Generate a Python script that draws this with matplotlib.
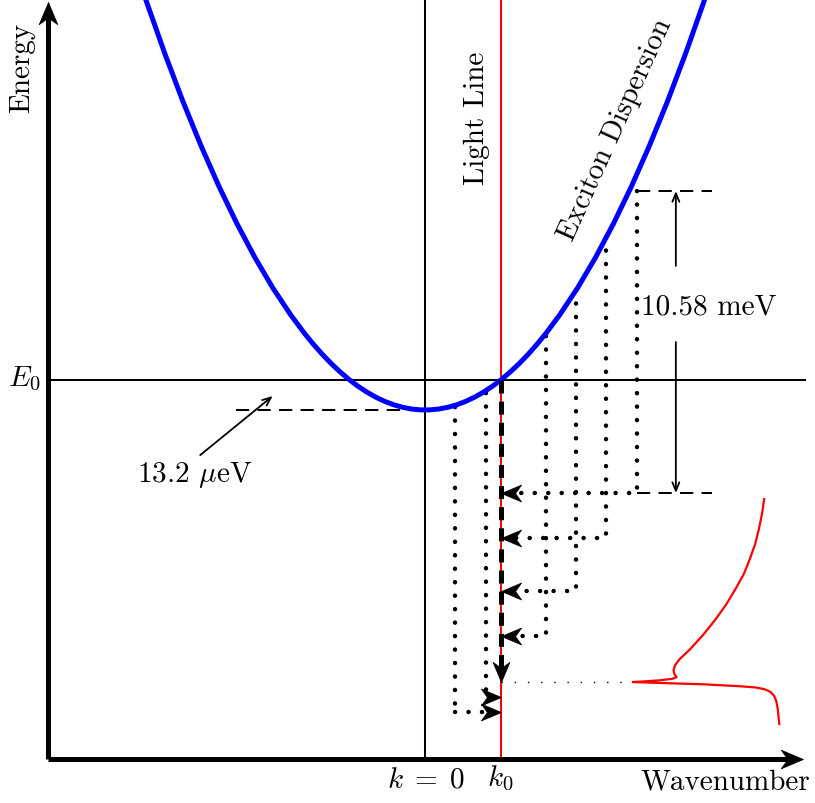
import numpy as np
import matplotlib
matplotlib.use("Agg")
import matplotlib.pyplot as plt
from matplotlib.path import Path
from matplotlib.patches import PathPatch
from matplotlib.markers import MarkerStyle
from matplotlib.transforms import Affine2D

plt.rcParams['font.family'] = ['cmr10', 'DejaVu Serif']
plt.rcParams['mathtext.fontset'] = 'cm'
plt.rcParams['axes.formatter.use_mathtext'] = True
plt.rcParams['lines.scale_dashes'] = False

# ---------------------------------------------------------
# Data (k in units of k0, energy in meV relative to E0)
# ---------------------------------------------------------
k0 = 1.0
E_min = -1.05

# exciton dispersion: parabola as quadratic bezier (start, control, end)
disp_k = [-3.8, 0.0, 3.8]
disp_E = [14.11, -16.21, 14.11]

# scattering paths: start on the dispersion, drop to a level, go to light line
col_k = [0.4, 0.8, 1.6, 2.0, 2.4, 2.8]
col_top = [-0.95, -0.45, 1.55, 3.15, 5.0, 6.62]
col_level = [-11.63, -11.11, -8.97, -7.39, -5.54, -3.96]

# emission level on the light line
E_emit = -10.58

# scale bar for 10.58 meV
bar_top = 6.62
bar_bottom = -3.96

# emission spectrum (drawn sideways)
spec_k = [4.49, 4.46, 4.42, 4.37, 4.30, 4.22, 4.11, 3.99, 3.85, 3.69, 3.51,
          3.37, 3.31, 3.29, 3.30, 3.33, 3.27, 3.11, 2.91, 2.75, 2.91, 3.18,
          3.68, 4.17, 4.37, 4.49, 4.57, 4.62, 4.65, 4.67, 4.68, 4.69]
spec_E = [-4.17, -4.70, -5.22, -5.75, -6.27, -6.80, -7.32, -7.85, -8.37,
          -8.90, -9.43, -9.78, -9.99, -10.16, -10.30, -10.41, -10.47, -10.52,
          -10.557, -10.582, -10.596, -10.62, -10.66, -10.73, -10.77, -10.83,
          -10.92, -11.06, -11.25, -11.53, -11.81, -12.05]

# ---------------------------------------------------------
# Figure
# ---------------------------------------------------------
fig = plt.figure(figsize=(8.15, 8.04), dpi=100)
ax = fig.add_axes([0, 0, 1, 1])
ax.set_xlim(-5.632, 5.163)
ax.set_ylim(-14.82, 13.35)
ax.axis('off')

x_lo = -5.0
E_axis = -13.28
fs = 21

# stealth-like arrow head, tip at the origin, pointing right
stealth = Path([(0, 0), (-1, 0.42), (-0.7, 0), (-1, -0.42), (0, 0)],
               [Path.MOVETO, Path.LINETO, Path.LINETO, Path.LINETO, Path.CLOSEPOLY])


def head(x, y, angle, ms=29):
    ax.plot([x], [y], linestyle='none', color='black', ms=ms, mew=0.5,
            marker=MarkerStyle(stealth, transform=Affine2D().rotate_deg(angle)),
            zorder=6)


# axes with arrows
ax.plot([x_lo, x_lo], [E_axis, 12.8], color='black', lw=3.6, solid_capstyle='butt', zorder=5)
ax.plot([x_lo, 4.85], [E_axis, E_axis], color='black', lw=3.6, solid_capstyle='butt', zorder=5)
head(x_lo, 13.24, 90, ms=32)
head(5.0, E_axis, 0, ms=32)

# reference lines
ax.plot([x_lo, 5.03], [0, 0], color='black', lw=1.45, zorder=2)
ax.plot([0, 0], [E_axis, 13.35], color='black', lw=1.45, zorder=2)
ax.plot([k0, k0], [E_axis, 13.35], color='red', lw=1.45, zorder=2)

# dispersion parabola
path = Path(list(zip(disp_k, disp_E)), [Path.MOVETO, Path.CURVE3, Path.CURVE3])
ax.add_patch(PathPatch(path, facecolor='none', edgecolor='blue', lw=3.6, zorder=4))

# dotted scattering paths
dot = dict(color='black', lw=3.2, linestyle=(0, (0.1, 9.6)), dash_capstyle='round', zorder=3)
for k, top, lev in zip(col_k, col_top, col_level):
    if k > k0:
        ax.plot([k, k, k0 + 0.2], [top, lev, lev], **dot)
        head(k0, lev, 180)
    else:
        ax.plot([k, k], [top, lev], **dot)
        ax.plot([k, k0 - 0.2], [lev, lev], **dot)
        head(k0, lev, 0)

# thick dashed path along the light line
ax.plot([k0, k0], [0, E_emit + 0.5], color='black', lw=3.6,
        linestyle=(0, (9.4, 5.8)), dash_capstyle='butt', zorder=5)
head(k0, E_emit, -90)

# thin dotted line to the spectrum peak
ax.plot([k0, spec_k[19]], [E_emit, E_emit], color='black', lw=1.0,
        linestyle=(0, (1.0, 8.5)), zorder=3)

# spectrum
ax.plot(spec_k, spec_E, color='red', lw=1.6, zorder=4)

# dashed level markers
dash = dict(color='black', lw=1.45, linestyle=(0, (9.5, 6)), zorder=3)
ax.plot([2.8, 3.8], [bar_top, bar_top], **dash)
ax.plot([2.8, 3.8], [bar_bottom, bar_bottom], **dash)
ax.plot([-2.5, 0], [E_min, E_min], **dash)

# 10.58 meV scale bar
bar_k = 3.32
thin = dict(arrowstyle='->,head_length=0.6,head_width=0.25', color='black',
            lw=1.3, shrinkA=0, shrinkB=0, mutation_scale=10)
ax.annotate('', xy=(bar_k, bar_top), xytext=(bar_k, 4.0), arrowprops=thin)
ax.annotate('', xy=(bar_k, bar_bottom), xytext=(bar_k, 1.33), arrowprops=thin)
ax.text(3.75, 2.59, '10.58 meV', fontsize=fs, ha='center', va='center')

# 13.2 ueV annotation
ax.annotate('', xy=(-2.02, -0.56), xytext=(-2.98, -2.63), arrowprops=thin)
ax.text(-3.05, -3.29, r'13.2 $\mu$eV', fontsize=fs, ha='center', va='center')

# labels
ax.text(-5.34, 10.97, 'Energy', fontsize=fs, rotation=90, ha='center', va='center')
ax.text(0.68, 9.22, 'Light Line', fontsize=fs, rotation=90, ha='center', va='center')
ax.text(2.52, 8.8, 'Exciton Dispersion', fontsize=fs, rotation=65.7,
        ha='center', va='center', rotation_mode='anchor')
ax.text(-5.31, 0.07, r'$E_0$', fontsize=fs, ha='center', va='center')
ax.text(0.01, -13.98, r'$k\;=\;0$', fontsize=fs, ha='center', va='center')
ax.text(0.99, -13.92, r'$k_0$', fontsize=fs, ha='center', va='center')
ax.text(3.98, -14.05, 'Wavenumber', fontsize=fs, ha='center', va='center')

fig.savefig('out.png', dpi=100)
